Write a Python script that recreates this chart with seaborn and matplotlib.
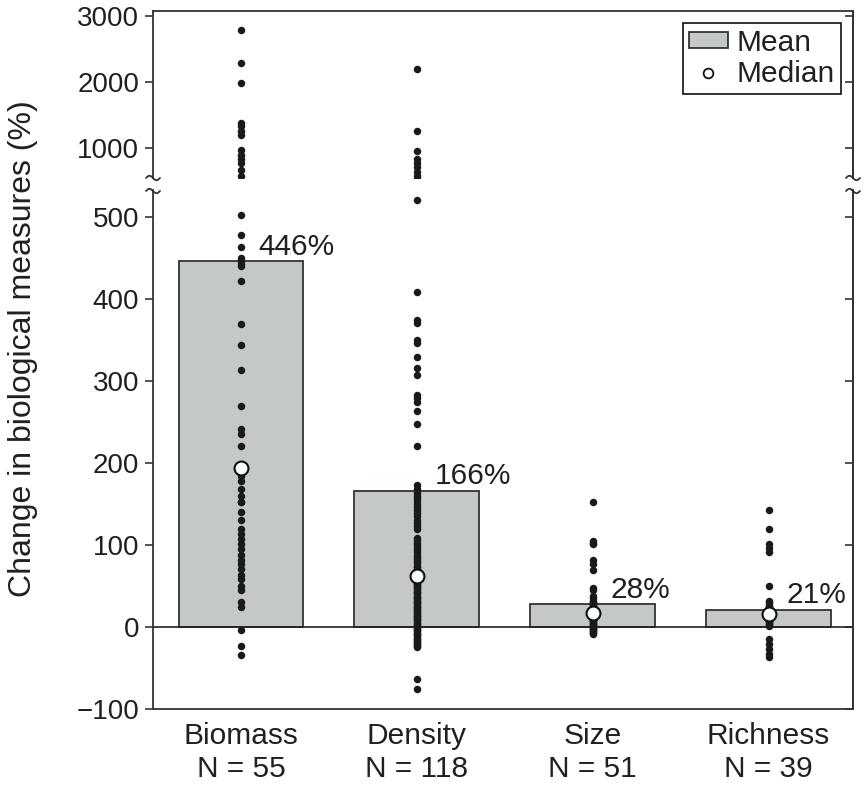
import matplotlib
matplotlib.use("Agg")
import numpy as np
import pandas as pd
import matplotlib.pyplot as plt
import seaborn as sns
from matplotlib.patches import Patch
from matplotlib.lines import Line2D

# ---------------- data ----------------
categories = ["Biomass", "Density", "Size", "Richness"]
n_labels = ["N = 55", "N = 118", "N = 51", "N = 39"]
means = [446, 166, 28, 21]
medians = [194, 62, 17, 16]
mean_labels = ["446%", "166%", "28%", "21%"]

biomass = [2790, 2293, 1977, 1377, 1325, 1249, 1198, 969, 893, 827, 766, 664, 570,
           502, 478, 464, 450, 446, 443, 440, 422, 370, 344, 313, 270, 241, 236, 221,
           194,
           184, 178, 168, 160, 153, 152, 140, 130, 119, 113, 107, 101, 95, 88, 82, 77,
           71, 64, 58, 50, 45, 30, 24, -4, -23, -34]

density = [2201, 1260, 954, 827, 766, 715, 640, 573,
           521, 409, 375, 371, 350, 347, 329, 316, 307, 283, 279, 274, 263, 248, 221,
           173, 168, 164, 160, 157, 154, 150, 146, 143, 139, 135, 131, 127, 123, 119,
           109, 106, 103, 100, 97, 94, 91, 88, 85, 83, 80, 78, 75, 73, 71, 69, 67, 66,
           65, 64, 63,
           62,
           58, 56, 55, 53, 52, 50, 49, 47, 46, 44, 43, 41, 40, 38, 37, 35, 34, 32, 31,
           29, 28, 26, 25, 23, 22, 20, 19, 17, 16, 14, 13, 11, 10, 8, 7, 5, 4, 2, 1,
           -1, -2, -4, -5, -7, -8, -10, -11, -13, -14, -16, -17, -19, -20, -22, -23,
           -24, -63, -76]

size_vals = [152, 105, 103, 101, 82, 77, 69, 48, 45, 38, 35, 32, 30,
             29, 28, 27, 26, 25, 24, 23, 22, 21, 20, 19, 18,
             17,
             16, 15, 14, 13, 12, 11, 10, 9, 8, 7, 6, 5, 4, 3, 2, 1, 0, -1, -2, -3,
             -4, -5, -6, -7, -8]

richness = [143, 119, 101, 97, 91, 50, 32, 30, 28, 26, 25, 24, 23, 22, 21, 20, 19,
            18, 17,
            16,
            15, 14, 13, 12, 11, 10, 9, 8, 7, 6, 5, 4, 3, 1, -15, -21, -27, -33, -37]

top_ticks = [1000, 2000, 3000]
bottom_ticks = [-100, 0, 100, 200, 300, 400, 500]

df = pd.DataFrame({
    "measure": (["Biomass"] * len(biomass) + ["Density"] * len(density)
                + ["Size"] * len(size_vals) + ["Richness"] * len(richness)),
    "value": biomass + density + size_vals + richness,
})

# ---------------- style ----------------
sns.set_style("ticks")
plt.rcParams["font.family"] = ["Liberation Sans", "DejaVu Sans"]
TXT = "#231f20"
SPINE = "#333333"
BAR = "#c4c9c8"
FS_TICK = 20
FS = 21.5

fig = plt.figure(figsize=(8.65, 7.85), dpi=100)
L, Wd = 0.1769, 0.8092
ax_top = fig.add_axes([L, 0.7732, Wd, 0.2128])
ax_bot = fig.add_axes([L, 0.0968, Wd, 0.6611])

# bars (means)
sns.barplot(x=categories, y=means, order=categories, color=BAR, saturation=1,
            edgecolor=SPINE, linewidth=1.3, width=0.71, ax=ax_bot, zorder=1)
ax_bot.axhline(0, color="#222222", lw=1.2, zorder=2)

# individual points on both panels
for ax in (ax_top, ax_bot):
    sns.stripplot(data=df, x="measure", y="value", order=categories, jitter=False,
                  color="#1a1a1a", size=5.4, linewidth=0, ax=ax, zorder=3)

# medians
sns.stripplot(x=categories, y=medians, order=categories, jitter=False, color="white",
              edgecolor="#111111", linewidth=1.5, size=10, ax=ax_bot, zorder=4)

# mean labels
for i, (m, lab) in enumerate(zip(means, mean_labels)):
    ax_bot.text(i + 0.1, m + 8, lab, ha="left", va="baseline", fontsize=FS, color=TXT)

# limits / ticks
ax_top.set_ylim(542, 3076)
ax_bot.set_ylim(-100, 533)
for ax, ticks in ((ax_top, top_ticks), (ax_bot, bottom_ticks)):
    ax.set_xlim(-0.5, 3.48)
    ax.set_xlabel("")
    ax.set_ylabel("")
    ax.set_yticks(ticks)
    for s in ax.spines.values():
        s.set_color(SPINE)
        s.set_linewidth(1.3)
    ax.tick_params(axis="y", direction="out", length=6, width=1.2, color=SPINE,
                   labelsize=FS_TICK, labelcolor=TXT, pad=4)
    sec = ax.secondary_yaxis("right")
    sec.set_yticks(ticks)
    sec.tick_params(axis="y", direction="in", length=6, width=1.2, color=SPINE,
                    labelright=False)
    sec.spines["right"].set_color(SPINE)
    sec.spines["right"].set_linewidth(1.3)

ax_top.spines["bottom"].set_visible(False)
ax_top.tick_params(axis="x", bottom=False, labelbottom=False)
ax_bot.spines["top"].set_visible(False)
ax_bot.set_xticks(range(len(categories)))
ax_bot.set_xticklabels([f"{c}\n{n}" for c, n in zip(categories, n_labels)],
                       fontsize=FS, color=TXT, linespacing=1.25)
ax_bot.tick_params(axis="x", length=0, pad=9)

# break marks (small tildes on both vertical spines)
def tilde(xpix, ypix):
    t = np.linspace(-1, 1, 30)
    xs = (xpix + 7 * t) / 865.0
    ys = 1 - (ypix + 2.2 * np.sin(np.pi * t)) / 785.0
    fig.add_artist(Line2D(xs, ys, color=SPINE, lw=1.3, transform=fig.transFigure))

for xp in (153, 853):
    tilde(xp, 178)
    tilde(xp, 191)

# legend
handles = [Patch(facecolor=BAR, edgecolor=SPINE, linewidth=1.3),
           Line2D([], [], marker="o", ls="none", markersize=7, markerfacecolor="white",
                  markeredgecolor="#111111", markeredgewidth=1.3)]
leg = ax_top.legend(handles, ["Mean", "Median"], loc="upper right", fontsize=FS,
                    frameon=True, fancybox=False, framealpha=1, edgecolor="#222222",
                    borderaxespad=0.4, handlelength=1.3, handleheight=0.45,
                    labelspacing=0.1, handletextpad=0.3, borderpad=0.2)
leg.get_frame().set_linewidth(1.3)
for t in leg.get_texts():
    t.set_color(TXT)

fig.text(0.027, 0.556, "Change in biological measures (%)", rotation=90,
         ha="center", va="center", fontsize=23, color=TXT)

fig.savefig("out.png", dpi=100)
